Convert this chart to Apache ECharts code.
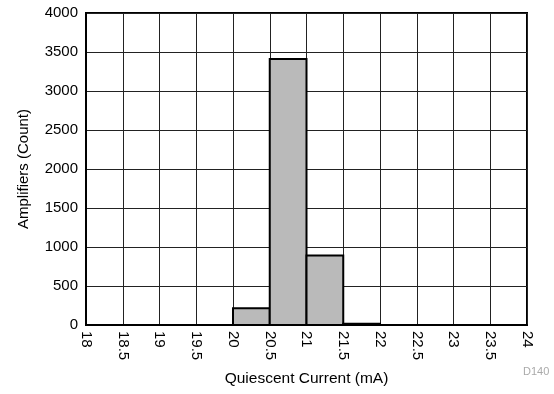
<!DOCTYPE html>
<html><head><meta charset="utf-8">
<script src="https://cdn.jsdelivr.net/npm/echarts@6/dist/echarts.min.js"></script>
<style>html,body{margin:0;padding:0;background:#fff}#c{width:554px;height:394px}</style>
</head><body><div id="c"></div>
<script>
var binStarts = [18, 18.5, 19, 19.5, 20, 20.5, 21, 21.5, 22, 22.5, 23, 23.5];
var counts    = [0, 0, 0, 0, 215, 3410, 890, 15, 0, 0, 0, 0];
var binWidth = 0.5;
var xTicks = ['18','18.5','19','19.5','20','20.5','21','21.5','22','22.5','23','23.5','24'];
var yTicks = ['0','500','1000','1500','2000','2500','3000','3500','4000'];

var data = binStarts.map(function(s, i){ return [s, s + binWidth, counts[i]]; }).filter(function(d){ return d[2] > 0; });
var font = 'Liberation Sans, Arial, sans-serif';
var chart = echarts.init(document.getElementById('c'));
chart.setOption({
  animation: false,
  grid: {left: 86, right: 27, top: 13, bottom: 69, show: true, borderColor: '#000', borderWidth: 2, containLabel: false},
  xAxis: {
    type: 'value', min: 18, max: 24, interval: 0.5,
    name: 'Quiescent Current (mA)', nameLocation: 'middle', nameGap: 46,
    nameTextStyle: {fontFamily: font, fontSize: 15.5, color: '#000'},
    axisLine: {show: true, lineStyle: {color: '#000', width: 2}},
    axisTick: {show: false},
    axisLabel: {rotate: -90, margin: 6, fontFamily: font, fontSize: 15, color: '#000',
      formatter: function(v){ return xTicks[Math.round((v - 18) / 0.5)]; }},
    splitLine: {show: true, lineStyle: {color: '#222', width: 1}}
  },
  yAxis: {
    type: 'value', min: 0, max: 4000, interval: 500,
    name: 'Amplifiers (Count)', nameLocation: 'middle', nameGap: 55,
    nameTextStyle: {fontFamily: font, fontSize: 15, color: '#000'},
    axisLine: {show: true, lineStyle: {color: '#000', width: 2}},
    axisTick: {show: false},
    axisLabel: {margin: 8, fontFamily: font, fontSize: 15, color: '#000',
      formatter: function(v){ return yTicks[Math.round(v / 500)]; }},
    splitLine: {show: true, lineStyle: {color: '#222', width: 1}}
  },
  graphic: [{type: 'text', left: 523, top: 366, style: {text: 'D140', fontFamily: font, fontSize: 11, fill: '#aaa'}}],
  series: [{
    type: 'custom',
    data: data,
    encode: {x: [0, 1], y: 2},
    renderItem: function(params, api){
      var p0 = api.coord([api.value(0), api.value(2)]);
      var p1 = api.coord([api.value(1), 0]);
      return {type: 'rect', shape: {x: p0[0], y: p0[1], width: p1[0]-p0[0], height: p1[1]-p0[1]},
        style: {fill: '#bababa', stroke: '#000', lineWidth: 2}};
    }
  }]
});
</script></body></html>
